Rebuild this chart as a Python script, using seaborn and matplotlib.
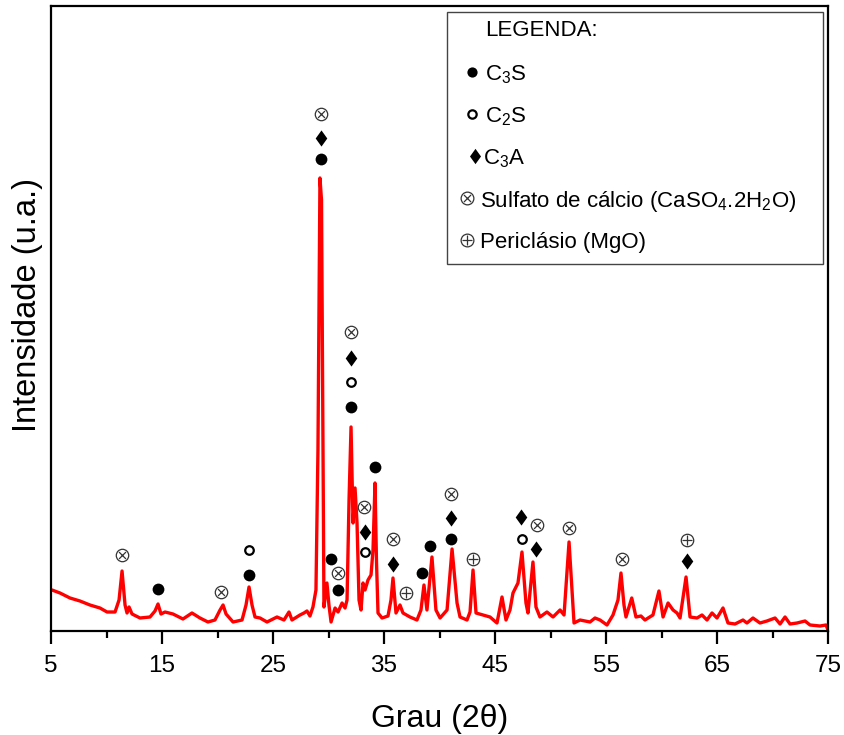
import matplotlib
matplotlib.use("Agg")
import matplotlib.pyplot as plt
import seaborn as sns
import numpy as np
import pandas as pd
from matplotlib.patches import Rectangle
from matplotlib.ticker import MultipleLocator

# ---------------- data ----------------
two_theta = [5.09, 5.81, 6.71, 7.61, 8.51, 9.41, 10.05, 10.77, 11.13, 11.40, 11.67, 11.85,
             12.03, 12.30, 13.02, 13.92, 14.37, 14.64, 14.91, 15.27, 15.99, 16.89, 17.70,
             18.42, 19.14, 19.77, 20.23, 20.50, 20.77, 21.40, 22.21, 22.57, 22.84, 23.11,
             23.38, 23.83, 24.46, 25.36, 25.99, 26.44, 26.71, 27.43, 27.79, 28.06, 28.33,
             28.60, 28.87, 29.05, 29.23, 29.37, 29.50, 29.59, 29.86, 30.04, 30.23, 30.59,
             30.86, 31.22, 31.49, 31.67, 31.85, 32.03, 32.21, 32.39, 32.57, 32.75, 32.93,
             33.11, 33.29, 33.56, 33.83, 34.01, 34.19, 34.32, 34.46, 34.82, 35.36, 35.63,
             35.81, 36.08, 36.44, 36.71, 37.34, 37.97, 38.33, 38.60, 38.87, 39.32, 39.68,
             40.05, 40.68, 41.13, 41.58, 41.85, 42.48, 42.75, 43.02, 43.29, 43.92, 44.55,
             45.18, 45.63, 45.99, 46.35, 46.62, 47.07, 47.43, 47.79, 47.97, 48.42, 48.69,
             49.05, 49.68, 50.23, 50.86, 51.22, 51.67, 52.12, 52.66, 53.56, 54.01, 54.46,
             55.09, 55.63, 56.08, 56.35, 56.62, 56.80, 57.32, 57.70, 58.15, 58.51, 59.23,
             59.77, 60.14, 60.59, 61.04, 61.40, 61.67, 62.21, 62.57, 63.20, 63.65, 64.10,
             64.55, 65.00, 65.54, 65.99, 66.62, 67.34, 67.70, 68.24, 68.87, 69.50, 70.23,
             70.68, 71.13, 71.58, 72.21, 72.93, 73.38, 74.28, 74.82, 75.00]
intensity = [41, 38, 33, 30, 26, 23, 19, 19, 31, 60, 26, 18,
             24, 17, 13, 14, 20, 27, 17, 19, 17, 12, 18,
             13, 9, 11, 21, 26, 17, 9, 11, 26, 44, 26,
             14, 13, 9, 14, 11, 19, 11, 16, 18, 20, 15,
             24, 41, 181, 453, 431, 181, 24, 48, 26, 9, 23,
             19, 28, 23, 31, 131, 204, 108, 143, 108, 31, 21,
             48, 41, 51, 56, 81, 148, 71, 18, 13, 15, 31,
             53, 18, 26, 18, 14, 11, 21, 46, 21, 74, 21,
             13, 21, 82, 28, 14, 11, 19, 61, 18, 16, 14,
             8, 34, 11, 21, 38, 48, 79, 28, 18, 69, 24,
             14, 19, 14, 21, 16, 89, 8, 11, 9, 13, 11,
             6, 16, 31, 58, 26, 14, 33, 14, 15, 11, 16,
             40, 14, 28, 21, 18, 13, 54, 14, 13, 16, 11,
             18, 13, 23, 8, 7, 11, 8, 13, 8, 10, 13,
             7, 14, 7, 8, 10, 6, 5, 6, 1]

# phase markers (2theta, label height)
c3s_x = [14.6, 22.8, 29.3, 30.2, 30.9, 32.03, 34.2, 38.4, 39.1, 41.0]
c3s_y = [42, 56, 472, 72, 41, 224, 164, 58, 85, 92]
c2s_x = [22.8, 32.03, 33.25, 47.4]
c2s_y = [81, 249, 79, 92]
c3a_x = [29.3, 32.03, 33.25, 35.8, 41.0, 47.3, 48.7, 62.3]
c3a_y = [493, 273, 99, 67, 113, 114, 82, 70]
gyp_x = [11.4, 20.3, 29.3, 32.03, 30.9, 33.2, 35.8, 41.0, 48.8, 51.7, 56.4]
gyp_y = [76, 39, 517, 299, 58, 124, 92, 137, 106, 103, 72]
mgo_x = [37.0, 43.0, 62.3]
mgo_y = [38, 72, 91]

xticks = [5, 15, 25, 35, 45, 55, 65, 75]
legend_title = "LEGENDA:"
legend_labels = [r"C$_\mathregular{3}$S", r"C$_\mathregular{2}$S", r"C$_\mathregular{3}$A",
                 r"Sulfato de cálcio (CaSO$_\mathregular{4}$.2H$_\mathregular{2}$O)",
                 "Periclásio (MgO)"]

# ---------------- style ----------------
sns.set_style("ticks")
plt.rcParams["font.family"] = ["Liberation Sans", "DejaVu Sans"]
plt.rcParams["mathtext.fontset"] = "custom"
plt.rcParams["mathtext.rm"] = "Liberation Sans"
plt.rcParams["mathtext.it"] = "Liberation Sans:italic"
plt.rcParams["mathtext.bf"] = "Liberation Sans:bold"
plt.rcParams["text.color"] = "black"
plt.rcParams["axes.labelcolor"] = "black"
plt.rcParams["xtick.color"] = "black"
plt.rcParams["ytick.color"] = "black"

fig = plt.figure(figsize=(8.45, 7.35), dpi=100)
ax = fig.add_axes([51 / 845, 1 - 631 / 735, 777 / 845, 625 / 735])

df = pd.DataFrame({"x": two_theta, "y": intensity})
sns.lineplot(data=df, x="x", y="y", ax=ax, color="#ff0000", lw=2.4, sort=False,
             estimator=None)

diamond = [(0, 1), (0.72, 0), (0, -1), (-0.72, 0), (0, 1)]

def draw_markers(axis, xs, ys, kind, transform=None, scale=1.0):
    kw = {}
    if transform is not None:
        kw["transform"] = transform
    if kind == "c3s":
        axis.scatter(xs, ys, s=72 * scale, marker="o", color="black", lw=0, zorder=5, **kw)
    elif kind == "c2s":
        axis.scatter(xs, ys, s=38 * scale, marker="o", facecolor="white",
                     edgecolor="black", lw=1.6, zorder=5, **kw)
    elif kind == "c3a":
        axis.scatter(xs, ys, s=135 * scale, marker=diamond, color="black", lw=0,
                     zorder=5, **kw)
    elif kind in ("gyp", "mgo"):
        axis.scatter(xs, ys, s=80 * scale, marker="o", facecolor="white",
                     edgecolor="#333333", lw=0.9, zorder=5, **kw)
        inner = "x" if kind == "gyp" else "+"
        axis.scatter(xs, ys, s=(25 if kind == "gyp" else 52) * scale, marker=inner,
                     color="#333333", lw=0.9, zorder=6, **kw)

for xs, ys, kind in [(c3s_x, c3s_y, "c3s"), (c2s_x, c2s_y, "c2s"), (c3a_x, c3a_y, "c3a"),
                     (gyp_x, gyp_y, "gyp"), (mgo_x, mgo_y, "mgo")]:
    draw_markers(ax, xs, ys, kind)

ax.set_xlim(5, 75)
ax.set_ylim(0, 625)
ax.set_xticks(xticks)
ax.xaxis.set_minor_locator(MultipleLocator(5))
ax.set_yticks([])
ax.tick_params(axis="x", which="major", direction="out", length=9, width=1.6,
               labelsize=17.5, pad=8.5, top=False, colors="black")
ax.tick_params(axis="x", which="minor", direction="out", length=5, width=1.6, top=False,
               colors="black")
for sp in ax.spines.values():
    sp.set_visible(True)
    sp.set_linewidth(1.6)
    sp.set_color("black")

ax.set_xlabel("Grau (2θ)", fontsize=23, labelpad=19, color="black")
ax.set_ylabel("Intensidade (u.a.)", fontsize=23.5, labelpad=5.5, color="black")
ax.yaxis.label.set_y(0.522)

# ---------------- legend box ----------------
def axc(px, py):
    return ((px - 51) / 777, (631 - py) / 625)

bx0, by0 = axc(447, 264)
bx1, by1 = axc(823, 12)
ax.add_patch(Rectangle((bx0, by0), bx1 - bx0, by1 - by0, transform=ax.transAxes,
                       facecolor="white", edgecolor="#444444", lw=1.0, zorder=7))

tx, ty = axc(485, 30)
ax.text(tx, ty, legend_title, transform=ax.transAxes, fontsize=16, va="center",
        ha="left", zorder=8, color="black")

rows_py = [72, 114, 156, 198, 240]
mark_px = [472, 472, 475, 467, 467]
text_px = [485, 485, 483, 480, 480]
kinds = ["c3s", "c2s", "c3a", "gyp", "mgo"]
scales = [0.75, 0.95, 0.9, 1.05, 1.05]
for py, mpx, tpx, kind, lab, sc in zip(rows_py, mark_px, text_px, kinds, legend_labels, scales):
    mx, my = axc(mpx, py)
    draw_markers(ax, [mx], [my], kind, transform=ax.transAxes, scale=sc)
    lx, ly = axc(tpx, py)
    ax.text(lx, ly, lab, transform=ax.transAxes, fontsize=16, va="center_baseline",
            ha="left", zorder=8, color="black")
for coll in ax.collections[-10:]:
    coll.set_zorder(9)

fig.savefig("out.png", dpi=100)
